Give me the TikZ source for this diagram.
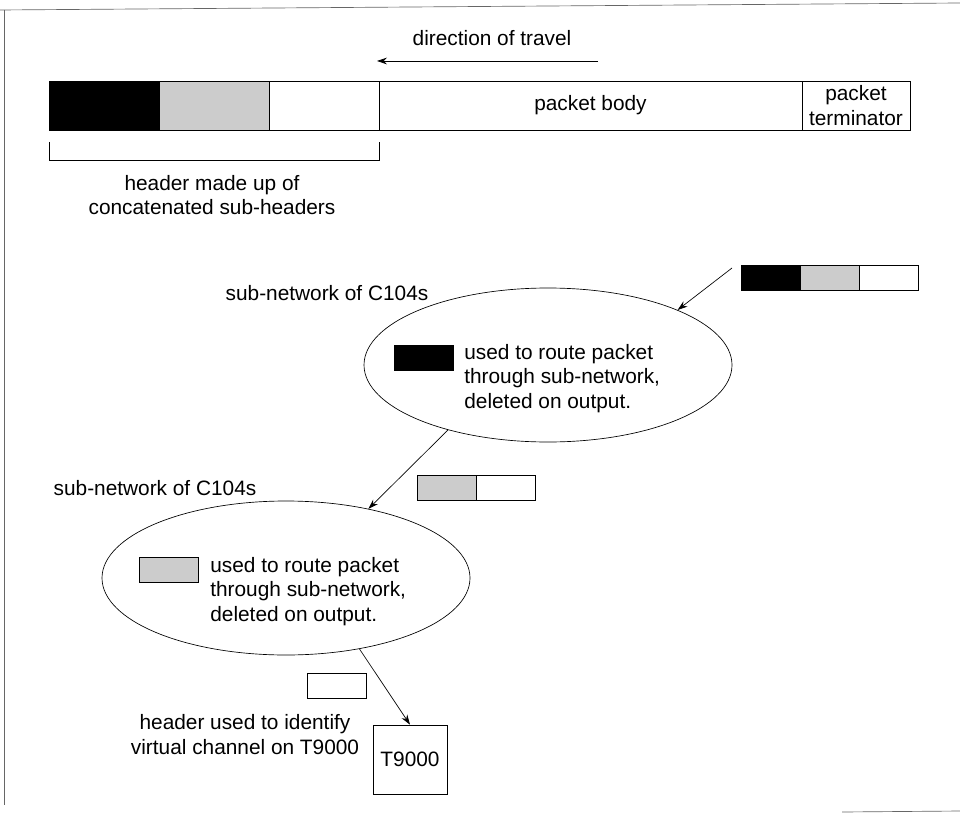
\documentclass[tikz,border=0pt]{standalone}
\usepackage{fontspec}
\setmainfont{Liberation Sans}
\usepackage{tikz}
\usetikzlibrary{shapes.geometric, arrows.meta, positioning, calc}
\definecolor{stipple}{gray}{0.8}
\tikzstyle{hcell} = [rectangle, draw=black, minimum width=66pt, minimum height=29.4pt, inner sep=0pt, outer sep=0pt]
\tikzstyle{scell} = [rectangle, draw=black, minimum width=35.4pt, minimum height=15pt, inner sep=0pt, outer sep=0pt]
\tikzstyle{subnet} = [ellipse, draw=black, minimum width=220.8pt, minimum height=92.4pt, inner sep=0pt]
\tikzstyle{note} = [align=left, anchor=west, inner sep=0pt]
\tikzstyle{arrow} = [-{Stealth[length=6pt, width=4pt]}, line width=0.4pt]

\begin{document}
\begin{tikzpicture}[x=0.6pt, y=-0.6pt, font=\fontsize{12.5}{14.7}\selectfont, line width=0.4pt]
  \useasboundingbox (0,0) rectangle (960,813);
  \draw[black!60] (0,10) -- (960,3);
  \draw[black!60] (4,10) -- (4,805);
  \draw[black!60] (842,812) -- (960,811);

  \node (travel) at (492,38) {direction of travel};
  \coordinate (travelA) at (598,61);
  \coordinate (travelB) at (377,61);
  \draw[arrow] (travelA) -- (travelB);

  \node[hcell, fill=black] (hdrA) at (104,105.5) {};
  \node[hcell, fill=stipple, right=0pt of hdrA] (hdrB) {};
  \node[hcell, right=0pt of hdrB] (hdrC) {};
  \node[hcell, minimum width=253.8pt, right=0pt of hdrC] (body) {packet body};
  \node[hcell, minimum width=64.8pt, align=center, right=0pt of body] (term) {packet\\terminator};
  \draw ($(hdrA.south west)+(0,12)$) -- ++(0,18) -| ($(hdrC.south east)+(0,12)$);
  \node[align=center] (hdrtext) at (212,195) {header made up of\\concatenated sub-headers};

  \node[scell, fill=black] (pktA) at (770.5,277.5) {};
  \node[scell, fill=stipple, right=0pt of pktA] (pktB) {};
  \node[scell, right=0pt of pktB] (pktC) {};
  \coordinate (pktin) at (732,268);

  \node (lblA) at (327,293) {sub-network of C104s};
  \node[subnet] (netA) at (548,365) {};
  \node[scell, fill=black] (keyA) at (423.5,357.5) {};
  \node[note] (noteA) at (464,378.5) {used to route packet\\through sub-network,\\deleted on output.};

  \node[scell, fill=stipple] (pktD) at (446.5,487.5) {};
  \node[scell, right=0pt of pktD] (pktE) {};

  \node (lblB) at (155,488) {sub-network of C104s};
  \node[subnet] (netB) at (286,578) {};
  \node[scell, fill=stipple] (keyB) at (168.5,570) {};
  \node[note] (noteB) at (210,591.5) {used to route packet\\through sub-network,\\deleted on output.};

  \node[scell] (keyC) at (337,686) {};
  \node[align=center] (vctext) at (245,734.5) {header used to identify\\virtual channel on T9000};
  \node[rectangle, draw, minimum width=44.4pt, minimum height=41.4pt] (t9000) at (410,759.5) {T9000};

  \draw[arrow] (pktin) -- (netA.23.4);
  \draw[arrow] (netA.213.6) -- (netB.40.8);
  \draw[arrow] (netB.316.5) -- (t9000.north);
\end{tikzpicture}
\end{document}
